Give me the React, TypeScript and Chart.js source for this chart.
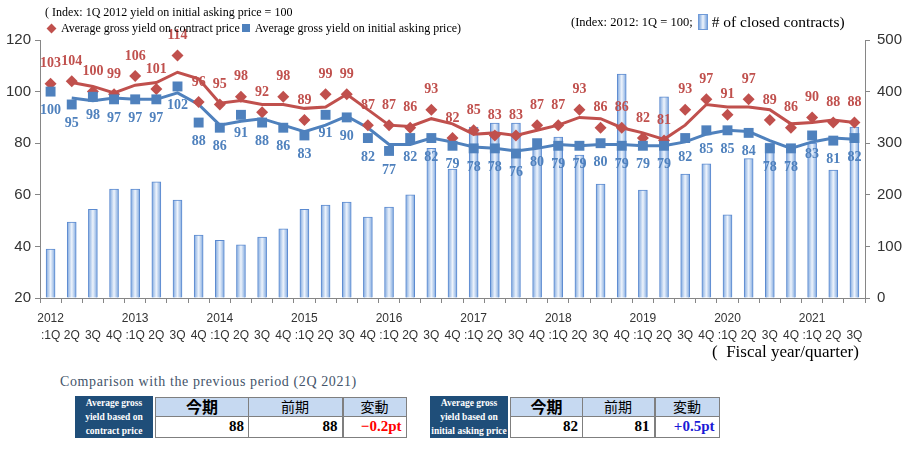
import React, { useEffect, useRef } from "react";
import { Chart, registerables } from "chart.js";

Chart.register(...registerables);

// ---- data ----
const yearLabels = [
  "2012", "", "", "", "2013", "", "", "", "2014", "", "", "", "2015", "", "", "",
  "2016", "", "", "", "2017", "", "", "", "2018", "", "", "", "2019", "", "", "",
  "2020", "", "", "", "2021", "", "",
];
const quarterLabels = [
  ":1Q", "2Q", "3Q", "4Q", ":1Q", "2Q", "3Q", "4Q", ":1Q", "2Q", "3Q", "4Q", ":1Q", "2Q", "3Q", "4Q",
  ":1Q", "2Q", "3Q", "4Q", ":1Q", "2Q", "3Q", "4Q", ":1Q", "2Q", "3Q", "4Q", ":1Q", "2Q", "3Q", "4Q",
  ":1Q", "2Q", "3Q", "4Q", ":1Q", "2Q", "3Q",
];
// index: average gross yield on contract price
const contractYield = [
  103, 104, 100, 99, 106, 101, 114, 96, 95, 98, 92, 98, 89, 99, 99, 87,
  87, 86, 93, 82, 85, 83, 83, 87, 87, 93, 86, 86, 82, 81, 93, 97,
  91, 97, 89, 86, 90, 88, 88,
];
// index: average gross yield on initial asking price
const askingYield = [
  100, 95, 98, 97, 97, 97, 102, 88, 86, 91, 88, 86, 83, 91, 90, 82,
  77, 82, 82, 79, 78, 78, 76, 80, 79, 79, 80, 79, 79, 79, 82, 85,
  85, 84, 78, 78, 83, 81, 82,
];
// 2-period moving average trend lines
const contractTrend = [
  null, 103.5, 102, 99.5, 102.5, 103.5, 107.5, 105, 95.5, 96.5, 95, 95, 93.5, 94, 99, 93,
  87, 86.5, 89.5, 87.5, 83.5, 84, 83, 85, 87, 90, 89.5, 86, 84, 81.5, 87, 95,
  94, 94, 93, 87.5, 88, 89, 88,
];
const askingTrend = [
  null, 97.5, 96.5, 97.5, 97, 97, 99.5, 95, 87, 88.5, 89.5, 87, 84.5, 87, 90.5, 86,
  79.5, 79.5, 82, 80.5, 78.5, 78, 77, 78, 79.5, 79, 79.5, 79.5, 79, 79, 80.5, 83.5,
  85, 84.5, 81, 78, 80.5, 82, 81.5,
];
// number of closed contracts
const closedContracts = [
  95, 147, 172, 211, 211, 225, 190, 122, 112, 103, 118, 134, 172, 180, 186, 157,
  176, 200, 290, 250, 331, 339, 339, 290, 312, 277, 221, 434, 209, 390, 240, 260,
  161, 270, 300, 290, 300, 248, 331,
];
const leftTicks = [20, 40, 60, 80, 100, 120];
const rightTicks = [0, 100, 200, 300, 400, 500];

const table1 = { current: "88", previous: "88", change: "−0.2pt" };
const table2 = { current: "82", previous: "81", change: "+0.5pt" };

const RED = "#c0504d";
const BLUE = "#4f81bd";
const SERIF = "'Liberation Serif', 'Times New Roman', serif";
const SANS = "'Liberation Sans', Arial, sans-serif";
const CJK = "'Noto Sans CJK JP', sans-serif";

const labelPlugin = {
  id: "valueLabels",
  afterDatasetsDraw(chart: any) {
    const ctx = chart.ctx;
    ctx.save();
    ctx.font = `bold 14px ${SERIF}`;
    ctx.textAlign = "center";
    ctx.textBaseline = "middle";
    const specs: Record<number, { color: string; dy: number }> = {
      2: { color: RED, dy: -20 },
      3: { color: BLUE, dy: 19 },
    };
    Object.keys(specs).forEach((k) => {
      const di = Number(k);
      const spec = specs[di];
      const meta = chart.getDatasetMeta(di);
      const data = chart.data.datasets[di].data;
      meta.data.forEach((el: any, i: number) => {
        const v = data[i];
        if (v == null) return;
        ctx.fillStyle = spec.color;
        ctx.fillText(String(v), el.x, el.y + spec.dy);
      });
    });
    ctx.restore();
  },
};

function ChartCanvas() {
  const ref = useRef<HTMLCanvasElement | null>(null);
  useEffect(() => {
    if (!ref.current) return;
    const labels = yearLabels.map((y, i) => [y, quarterLabels[i]]);
    const barColor = (c: any) => {
      const chart = c.chart;
      const xs = chart.scales && chart.scales.x;
      if (!chart.chartArea || !xs || c.dataIndex == null) return "#b9d0ef";
      const cx = xs.getPixelForValue(c.dataIndex);
      const g = chart.ctx.createLinearGradient(cx - 4.5, 0, cx + 4.5, 0);
      g.addColorStop(0, "#7ea7de");
      g.addColorStop(0.5, "#eef4fc");
      g.addColorStop(1, "#7ea7de");
      return g;
    };
    const chart = new Chart(ref.current, {
      type: "bar",
      data: {
        labels,
        datasets: [
          {
            type: "line",
            data: contractTrend,
            borderColor: RED,
            borderWidth: 3,
            pointRadius: 0,
            yAxisID: "y",
            order: 5,
          } as any,
          {
            type: "line",
            data: askingTrend,
            borderColor: BLUE,
            borderWidth: 3,
            pointRadius: 0,
            yAxisID: "y",
            order: 6,
          } as any,
          {
            type: "line",
            data: contractYield,
            showLine: false,
            pointStyle: "rectRot",
            pointRadius: 6,
            pointBackgroundColor: RED,
            pointBorderColor: RED,
            pointBorderWidth: 0,
            yAxisID: "y",
            order: 2,
          } as any,
          {
            type: "line",
            data: askingYield,
            showLine: false,
            pointStyle: "rect",
            pointRadius: 7,
            pointBackgroundColor: BLUE,
            pointBorderColor: BLUE,
            pointBorderWidth: 0,
            yAxisID: "y",
            order: 1,
          } as any,
          {
            type: "bar",
            data: closedContracts,
            backgroundColor: barColor,
            borderColor: "#5b8ad0",
            borderWidth: 1,
            barThickness: 9,
            yAxisID: "y1",
            order: 10,
          } as any,
        ],
      },
      options: {
        animation: false,
        responsive: false,
        devicePixelRatio: 1,
        layout: { padding: { top: 40, left: 0, right: 0, bottom: 0 } },
        plugins: { legend: { display: false }, tooltip: { enabled: false } },
        scales: {
          x: {
            offset: true,
            grid: {
              offset: true,
              drawOnChartArea: false,
              drawTicks: true,
              tickLength: 5,
              color: "#868686",
            },
            border: { display: true, color: "#868686", width: 1 },
            ticks: {
              autoSkip: false,
              maxRotation: 0,
              minRotation: 0,
              padding: 8,
              color: "#333333",
              font: { family: SANS, size: 12, lineHeight: 1.35 },
            },
            afterFit: (s: any) => {
              s.height = 47;
            },
          },
          y: {
            position: "left",
            min: 20,
            max: 120,
            afterBuildTicks: (s: any) => {
              s.ticks = leftTicks.map((v) => ({ value: v }));
            },
            grid: {
              drawOnChartArea: false,
              drawTicks: true,
              tickLength: 5,
              color: "#868686",
            },
            border: { display: true, color: "#868686", width: 1 },
            ticks: {
              padding: 4,
              color: "#333333",
              font: { family: SANS, size: 15 },
            },
            afterFit: (s: any) => {
              s.width = 40;
            },
          },
          y1: {
            position: "right",
            min: 0,
            max: 500,
            afterBuildTicks: (s: any) => {
              s.ticks = rightTicks.map((v) => ({ value: v }));
            },
            grid: {
              drawOnChartArea: false,
              drawTicks: true,
              tickLength: 5,
              color: "#868686",
            },
            border: { display: true, color: "#868686", width: 1 },
            ticks: {
              padding: 7,
              color: "#333333",
              font: { family: SANS, size: 15 },
            },
            afterFit: (s: any) => {
              s.width = 42;
            },
          },
        },
      },
      plugins: [labelPlugin],
    } as any);
    return () => chart.destroy();
  }, []);
  return (
    <canvas
      ref={ref}
      width={907}
      height={345}
      style={{ position: "absolute", left: 0, top: 0, width: 907, height: 345 }}
    />
  );
}

function CompareTable(props: {
  left: number;
  labelLines: string[];
  widths: number[];
  values: { current: string; previous: string; change: string };
  changeColor: string;
}) {
  const { left, labelLines, widths, values, changeColor } = props;
  const tableLeft = left + 80;
  const top = 397;
  const headH = 20;
  const rowH = 21;
  const border = "1.5px solid #7f7f7f";
  const cols = [0, widths[0], widths[0] + widths[1]];
  const heads = [
    { t: "今期", bold: true, size: 16 },
    { t: "前期", bold: false, size: 14 },
    { t: "変動", bold: false, size: 14 },
  ];
  const vals = [
    { t: values.current, color: "#000" },
    { t: values.previous, color: "#000" },
    { t: values.change, color: changeColor },
  ];
  return (
    <>
      <div
        style={{
          position: "absolute",
          left,
          top: top - 1,
          width: 78,
          height: headH + rowH + 1,
          background: "#1f4e79",
          color: "#fff",
          fontFamily: SERIF,
          fontWeight: "bold",
          fontSize: 9.5,
          lineHeight: "14px",
          textAlign: "center",
          whiteSpace: "nowrap",
          overflow: "hidden",
        }}
      >
        {labelLines.map((l, i) => (
          <div key={i}>{l}</div>
        ))}
      </div>
      {heads.map((h, i) => (
        <div
          key={"h" + i}
          style={{
            position: "absolute",
            left: tableLeft + cols[i],
            top,
            width: widths[i],
            height: headH,
            boxSizing: "border-box",
            border,
            marginLeft: i > 0 ? -1.5 : 0,
            background: "#c6d9f1",
            fontFamily: CJK,
            fontWeight: h.bold ? "bold" : "normal",
            fontSize: h.size,
            lineHeight: headH - 3 + "px",
            textAlign: "center",
            color: "#000",
          }}
        >
          {h.t}
        </div>
      ))}
      {vals.map((v, i) => (
        <div
          key={"v" + i}
          style={{
            position: "absolute",
            left: tableLeft + cols[i],
            top: top + headH - 1.5,
            width: widths[i],
            height: rowH + 1.5,
            boxSizing: "border-box",
            border,
            marginLeft: i > 0 ? -1.5 : 0,
            background: "#fff",
            fontFamily: SERIF,
            fontWeight: "bold",
            fontSize: 15,
            lineHeight: rowH - 2 + "px",
            textAlign: "right",
            paddingRight: 4,
            color: v.color,
          }}
        >
          {v.t}
        </div>
      ))}
    </>
  );
}

export default function App() {
  return (
    <div
      style={{
        position: "absolute",
        left: 0,
        top: 0,
        width: 907,
        height: 458,
        background: "#fff",
        overflow: "hidden",
      }}
    >
      <ChartCanvas />
      <div
        style={{
          position: "absolute",
          left: 45,
          top: 4,
          fontFamily: SERIF,
          fontSize: 12,
          lineHeight: "16px",
          whiteSpace: "pre",
          color: "#000",
        }}
      >
        {"( Index: 1Q 2012 yield on initial asking price = 100"}
      </div>
      <div
        style={{
          position: "absolute",
          left: 46,
          top: 20,
          fontFamily: SERIF,
          fontSize: 12,
          lineHeight: "16px",
          whiteSpace: "nowrap",
          color: "#000",
          display: "flex",
          alignItems: "center",
        }}
      >
        <span
          style={{
            display: "inline-block",
            width: 7,
            height: 7,
            background: RED,
            transform: "rotate(45deg)",
            margin: "0 6px 0 2px",
          }}
        />
        <span>Average gross yield on contract price</span>
        <span
          style={{
            display: "inline-block",
            width: 8,
            height: 8,
            background: BLUE,
            margin: "0 5px 0 2px",
          }}
        />
        <span>Average gross yield on initial asking price)</span>
      </div>
      <div
        style={{
          position: "absolute",
          left: 571,
          top: 13,
          fontFamily: SERIF,
          lineHeight: "18px",
          whiteSpace: "nowrap",
          color: "#000",
          display: "flex",
          alignItems: "center",
        }}
      >
        <span style={{ fontSize: 12.5 }}>(Index: 2012: 1Q = 100;</span>
        <span
          style={{
            display: "inline-block",
            width: 8,
            height: 14,
            margin: "0 4px 0 5px",
            border: "1px solid #6f9ad8",
            background: "linear-gradient(to right, #7ea7de, #eef4fc, #7ea7de)",
          }}
        />
        <span style={{ fontSize: 15.5 }}># of closed contracts)</span>
      </div>
      <div
        style={{
          position: "absolute",
          left: 712,
          top: 341,
          fontFamily: SERIF,
          fontSize: 17,
          lineHeight: "22px",
          whiteSpace: "pre",
          color: "#000",
        }}
      >
        {"(  Fiscal year/quarter)"}
      </div>
      <div
        style={{
          position: "absolute",
          left: 60,
          top: 373,
          fontFamily: SERIF,
          fontSize: 14,
          letterSpacing: 0.6,
          lineHeight: "18px",
          whiteSpace: "nowrap",
          color: "#44546a",
        }}
      >
        Comparison with the previous period (2Q 2021)
      </div>
      <CompareTable
        left={75}
        labelLines={["Average gross", "yield based on", "contract price"]}
        widths={[94, 95, 64]}
        values={table1}
        changeColor="#ff0000"
      />
      <CompareTable
        left={430}
        labelLines={["Average gross", "yield based on", "initial asking price"]}
        widths={[73, 73, 65]}
        values={table2}
        changeColor="#1a1ad6"
      />
    </div>
  );
}
